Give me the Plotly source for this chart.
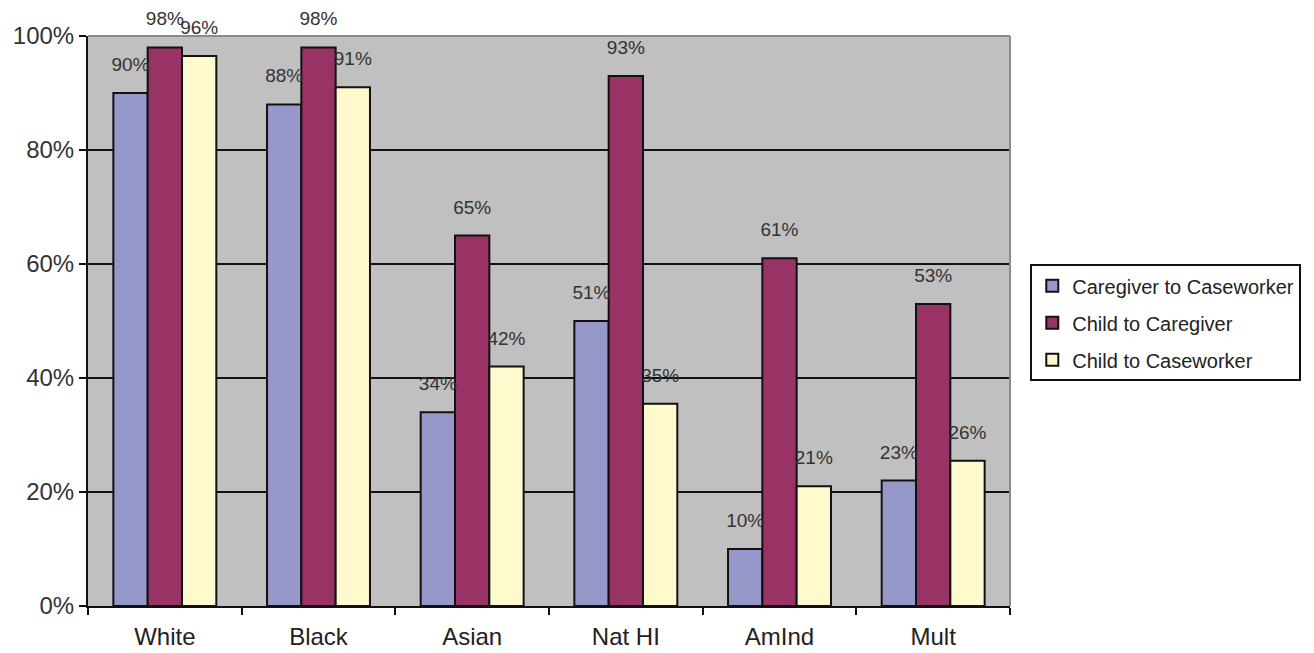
import plotly.graph_objects as go

categories = ["White", "Black", "Asian", "Nat HI", "AmInd", "Mult"]
series_names = ["Caregiver to Caseworker", "Child to Caregiver", "Child to Caseworker"]
caregiver_to_caseworker = [90, 88, 34, 50, 10, 22]
child_to_caregiver = [98, 98, 65, 93, 61, 53]
child_to_caseworker = [96.5, 91, 42, 35.5, 21, 25.5]
label_caregiver_to_caseworker = ["90%", "88%", "34%", "51%", "10%", "23%"]
label_child_to_caregiver = ["98%", "98%", "65%", "93%", "61%", "53%"]
label_child_to_caseworker = ["96%", "91%", "42%", "35%", "21%", "26%"]
y_tick_values = [0, 20, 40, 60, 80, 100]
y_tick_labels = ["0%", "20%", "40%", "60%", "80%", "100%"]
colors = ["#9798CA", "#993366", "#FFFACD"]

values = [caregiver_to_caseworker, child_to_caregiver, child_to_caseworker]
labels = [label_caregiver_to_caseworker, label_child_to_caregiver, label_child_to_caseworker]

FONT = "Liberation Sans, Arial, sans-serif"

fig = go.Figure()
for i, (name, vals, labs, col) in enumerate(zip(series_names, values, labels, colors)):
    fig.add_trace(go.Bar(
        x=categories, y=vals, name=name, legendgroup="g%d" % i,
        offsetgroup="g%d" % i,
        marker=dict(color=col, line=dict(color="#111111", width=2)),
        hoverinfo="skip",
    ))
for i, (vals, labs) in enumerate(zip(values, labels)):
    fig.add_trace(go.Scatter(
        x=categories, y=vals, mode="markers+text", text=labs,
        offsetgroup="g%d" % i,
        textposition="top center",
        marker=dict(size=26, opacity=0),
        textfont=dict(family=FONT, size=19, color="#333333"),
        showlegend=False, hoverinfo="skip", cliponaxis=False,
    ))

fig.update_layout(
    width=1314, height=653,
    margin=dict(l=88, r=304, t=36, b=47),
    paper_bgcolor="white",
    plot_bgcolor="#C0C0C0",
    barmode="group",
    bargap=0.33,
    bargroupgap=0,
    scattermode="group",
    scattergap=0.33,
    font=dict(family=FONT, size=18, color="#222222"),
    showlegend=True,
    legend=dict(
        x=1.022, y=0.497, xanchor="left", yanchor="middle",
        bgcolor="white", bordercolor="#111111", borderwidth=2,
        font=dict(family=FONT, size=20, color="#222222"),
        tracegroupgap=8, itemwidth=30,
    ),
    yaxis=dict(
        range=[0, 100], tickmode="array", tickvals=y_tick_values, ticktext=y_tick_labels,
        showgrid=True, gridcolor="#111111", gridwidth=2,
        showline=True, linecolor="#111111", linewidth=2,
        ticks="outside", ticklen=7, tickcolor="#111111", tickwidth=2,
        zeroline=False, automargin=False,
        tickfont=dict(family=FONT, size=24, color="#333333"),
    ),
    xaxis=dict(
        showline=True, linecolor="#111111", linewidth=2,
        ticks="outside", tickson="boundaries", ticklen=7, tickcolor="#111111", tickwidth=2,
        automargin=False,
        tickfont=dict(family=FONT, size=24, color="#222222"),
        ticklabelstandoff=8,
    ),
)
# gray frame on top and right of the plot area
fig.add_shape(type="line", xref="paper", yref="paper", x0=0, x1=1, y0=1, y1=1,
              line=dict(color="#8a8a8a", width=2), layer="above")
fig.add_shape(type="line", xref="paper", yref="paper", x0=1, x1=1, y0=0, y1=1,
              line=dict(color="#8a8a8a", width=2), layer="above")

fig.write_html("out.html")
